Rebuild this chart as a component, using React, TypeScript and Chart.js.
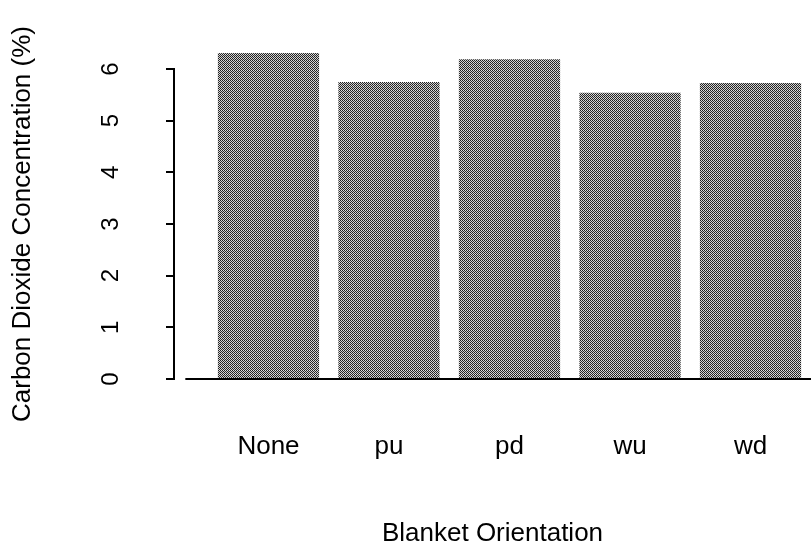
import React, { useEffect, useRef } from "react";
import { Chart, registerables } from "chart.js";

Chart.register(...registerables);

const categories: string[] = ["None", "pu", "pd", "wu", "wd"];
const co2Values: number[] = [6.31, 5.75, 6.19, 5.54, 5.73];
const yTicks: number[] = [0, 1, 2, 3, 4, 5, 6];
const xTitle = "Blanket Orientation";
const yTitle = "Carbon Dioxide Concentration (%)";

const X_MIN = -0.784;
const X_MAX = 4.502;
const BASELINE_START = -0.69;
const FONT = '"Liberation Sans", Arial, Helvetica, sans-serif';

function makePattern(): CanvasPattern | string {
  const c = document.createElement("canvas");
  c.width = 4;
  c.height = 4;
  const g = c.getContext("2d");
  if (!g) return "#808080";
  const dark = ["#1c1c1c", "#2a2a2a", "#202020", "#303030"];
  const light = ["#e2e2e2", "#cfcfcf", "#d8d8d8", "#c4c4c4"];
  for (let y = 0; y < 4; y++) {
    for (let x = 0; x < 4; x++) {
      g.fillStyle = (x + y) % 2 === 0 ? dark[(x + 2 * y) % 4] : light[(2 * x + y) % 4];
      g.fillRect(x, y, 1, 1);
    }
  }
  const p = g.createPattern(c, "repeat");
  return p || "#808080";
}

const baselinePlugin = {
  id: "baseline",
  afterDatasetsDraw(chart: any) {
    const { ctx, chartArea, scales } = chart;
    const y = scales.y.getPixelForValue(0);
    const x0 = scales.x.getPixelForValue(BASELINE_START);
    ctx.save();
    ctx.strokeStyle = "#000";
    ctx.lineWidth = 2;
    ctx.beginPath();
    ctx.moveTo(x0, y);
    ctx.lineTo(chartArea.right, y);
    ctx.stroke();
    ctx.restore();
  },
};

export default function App() {
  const ref = useRef<HTMLCanvasElement | null>(null);

  useEffect(() => {
    if (!ref.current) return;
    const chart = new Chart(ref.current, {
      type: "bar",
      data: {
        datasets: [
          {
            data: co2Values.map((v, i) => ({ x: i, y: v })),
            backgroundColor: makePattern() as any,
            borderWidth: 0,
            categoryPercentage: 1,
            barPercentage: 0.84,
            clip: false as any,
          },
        ],
      },
      options: {
        animation: false,
        responsive: false,
        layout: { padding: { top: 69, right: 0, left: 0, bottom: 0 } },
        plugins: {
          legend: { display: false },
          tooltip: { enabled: false },
          title: { display: false },
        },
        scales: {
          x: {
            type: "linear",
            offset: false,
            min: X_MIN,
            max: X_MAX,
            bounds: "data",
            afterBuildTicks: (s: any) => {
              s.ticks = categories.map((_, i) => ({ value: i }));
            },
            afterFit: (s: any) => {
              s.height = 178;
              s.paddingLeft = 0;
              s.paddingRight = 0;
            },
            grid: { display: false, drawTicks: false, offset: false },
            border: { display: false },
            ticks: {
              autoSkip: false,
              maxRotation: 0,
              minRotation: 0,
              padding: 52,
              color: "#000",
              font: { family: FONT, size: 26 },
              callback: (v: any) => categories[Number(v)] ?? "",
            },
            title: {
              display: true,
              text: xTitle,
              color: "#000",
              font: { family: FONT, size: 26 },
              padding: { top: 0, bottom: 8 },
            },
          },
          y: {
            type: "linear",
            min: 0,
            max: 6,
            afterBuildTicks: (s: any) => {
              s.ticks = yTicks.map((v) => ({ value: v }));
            },
            afterFit: (s: any) => {
              s.width = 174;
            },
            grid: {
              display: true,
              drawOnChartArea: false,
              drawTicks: true,
              tickLength: 8,
              color: "#000",
              lineWidth: 2,
            },
            border: { display: true, color: "#000", width: 2 },
            ticks: {
              minRotation: 90,
              maxRotation: 90,
              crossAlign: "center",
              padding: 48,
              color: "#000",
              font: { family: FONT, size: 24 },
            },
            title: {
              display: true,
              text: yTitle,
              color: "#000",
              font: { family: FONT, size: 26 },
              padding: { top: 7, bottom: 0 },
            },
          },
        },
      },
      plugins: [baselinePlugin],
    });
    return () => chart.destroy();
  }, []);

  return (
    <div style={{ position: "absolute", left: 0, top: 0, width: 811, height: 557, background: "#fff" }}>
      <canvas ref={ref} width={811} height={557} style={{ display: "block" }} />
    </div>
  );
}
